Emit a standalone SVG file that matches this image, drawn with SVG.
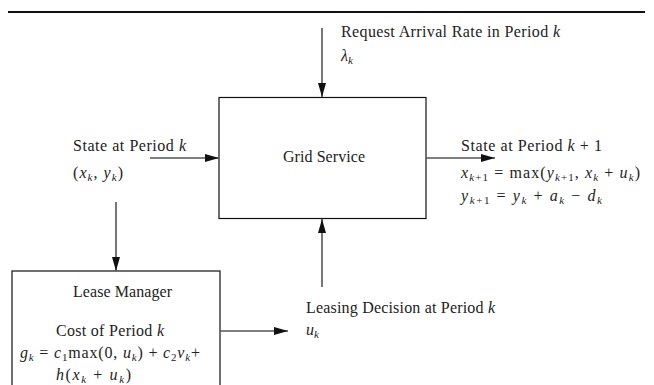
<svg xmlns="http://www.w3.org/2000/svg" width="654" height="385" viewBox="0 0 654 385">
<style>
text{font-family:"Liberation Serif","DejaVu Serif",serif;font-size:16px;fill:#222}
.i{font-style:italic}
.s{font-size:11px}
.box{fill:#fff;stroke:#111;stroke-width:1.2}
.c{stroke:#555;stroke-width:1.6;fill:none}
</style>
<defs>
<marker id="ah" viewBox="0 0 14 8" refX="14" refY="4" markerWidth="14" markerHeight="8" markerUnits="userSpaceOnUse" orient="auto">
<path d="M0,0 L14,4 L0,8 z" fill="#111"/>
</marker>
</defs>
<line x1="8" y1="12" x2="645" y2="12" stroke="#111" stroke-width="2"/>
<g id="grid-service">
<rect class="box" x="219" y="97.5" width="207" height="121"/>
<text x="283" y="162" textLength="82" lengthAdjust="spacing">Grid Service</text>
</g>
<g id="lease-manager">
<rect class="box" x="12" y="271" width="208" height="130"/>
<text x="73" y="297" textLength="99" lengthAdjust="spacing">Lease Manager</text>
<text x="56" y="336" textLength="108" lengthAdjust="spacing">Cost of Period <tspan class="i">k</tspan></text>
<text x="20" y="358" textLength="180" lengthAdjust="spacing"><tspan class="i">g</tspan><tspan class="s i" dy="3">k</tspan><tspan dy="-3"> = </tspan><tspan class="i">c</tspan><tspan class="s" dy="3">1</tspan><tspan dy="-3">max(0, </tspan><tspan class="i">u</tspan><tspan class="s i" dy="3">k</tspan><tspan dy="-3">) + </tspan><tspan class="i">c</tspan><tspan class="s" dy="3">2</tspan><tspan class="i" dy="-3">v</tspan><tspan class="s i" dy="3">k</tspan><tspan dy="-3">+</tspan></text>
<text x="56" y="380" textLength="75" lengthAdjust="spacing"><tspan class="i">h</tspan>(<tspan class="i">x</tspan><tspan class="s i" dy="3">k</tspan><tspan dy="-3"> + </tspan><tspan class="i">u</tspan><tspan class="s i" dy="3">k</tspan><tspan dy="-3">)</tspan></text>
</g>
<g id="request-label">
<text x="341" y="37" textLength="219" lengthAdjust="spacing">Request Arrival Rate in Period <tspan class="i">k</tspan></text>
<text x="341" y="61"><tspan class="i">λ</tspan><tspan class="s i" dy="3">k</tspan></text>
</g>
<g id="state-label">
<text x="73" y="151" textLength="113" lengthAdjust="spacing">State at Period <tspan class="i">k</tspan></text>
<text x="73" y="178" textLength="50" lengthAdjust="spacing">(<tspan class="i">x</tspan><tspan class="s i" dy="3">k</tspan><tspan dy="-3">, </tspan><tspan class="i">y</tspan><tspan class="s i" dy="3">k</tspan><tspan dy="-3">)</tspan></text>
</g>
<g id="next-state-label">
<text x="461" y="151" textLength="141" lengthAdjust="spacing">State at Period <tspan class="i">k</tspan> + 1</text>
<text x="461" y="178" textLength="179" lengthAdjust="spacing"><tspan class="i">x</tspan><tspan class="s" dy="3"><tspan class="i">k</tspan>+1</tspan><tspan dy="-3"> = max(</tspan><tspan class="i">y</tspan><tspan class="s" dy="3"><tspan class="i">k</tspan>+1</tspan><tspan dy="-3">, </tspan><tspan class="i">x</tspan><tspan class="s i" dy="3">k</tspan><tspan dy="-3"> + </tspan><tspan class="i">u</tspan><tspan class="s i" dy="3">k</tspan><tspan dy="-3">)</tspan></text>
<text x="461" y="201" textLength="141" lengthAdjust="spacing"><tspan class="i">y</tspan><tspan class="s" dy="3"><tspan class="i">k</tspan>+1</tspan><tspan dy="-3"> = </tspan><tspan class="i">y</tspan><tspan class="s i" dy="3">k</tspan><tspan dy="-3"> + </tspan><tspan class="i">a</tspan><tspan class="s i" dy="3">k</tspan><tspan dy="-3"> − </tspan><tspan class="i">d</tspan><tspan class="s i" dy="3">k</tspan></text>
</g>
<g id="leasing-label">
<text x="306" y="313" textLength="189" lengthAdjust="spacing">Leasing Decision at Period <tspan class="i">k</tspan></text>
<text x="306" y="335"><tspan class="i">u</tspan><tspan class="s i" dy="3">k</tspan></text>
</g>
<g id="connectors">
<line class="c" x1="322" y1="28" x2="322" y2="97" marker-end="url(#ah)"/>
<line class="c" x1="150" y1="158" x2="219" y2="158" marker-end="url(#ah)"/>
<line class="c" x1="426" y1="158" x2="495" y2="158" marker-end="url(#ah)"/>
<line class="c" x1="116" y1="202" x2="116" y2="271" marker-end="url(#ah)"/>
<line class="c" x1="322" y1="287" x2="322" y2="219" marker-end="url(#ah)"/>
<line class="c" x1="220" y1="331" x2="288" y2="331" marker-end="url(#ah)"/>
</g>
</svg>
